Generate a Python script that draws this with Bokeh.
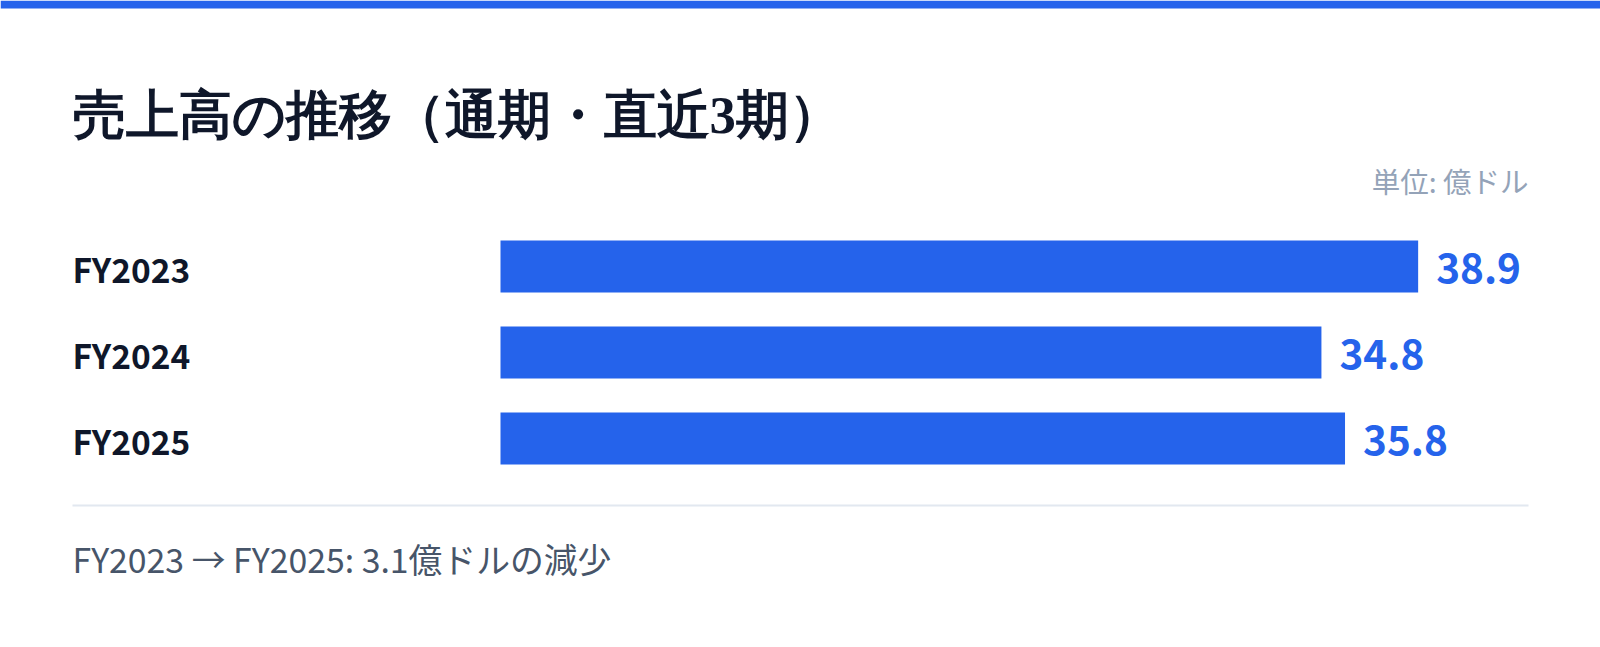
from bokeh.plotting import figure
from bokeh.models import Range1d, ColumnDataSource, Label, BoxAnnotation
from bokeh.core.properties import value
from bokeh.embed import file_html
from bokeh.resources import INLINE

# ---- data ----
categories = ["FY2023", "FY2024", "FY2025"]
sales = [38.9, 34.8, 35.8]
value_labels = ["38.9", "34.8", "35.8"]
title_text = "売上高の推移（通期・直近3期）"
unit_text = "単位: 億ドル"
footer_text = "FY2023 → FY2025: 3.1億ドルの減少"

# ---- layout helpers (pixel geometry of the card) ----
W, H = 1600, 647
X0_PX, PX_PER_UNIT = 500.0, 23.59
Y0_PX, ROW_PX = 266.0, 86.0

def px_x(px):
    return (px - X0_PX) / PX_PER_UNIT

def px_y(py):
    return (py - Y0_PX) / ROW_PX

BLUE = "#2563EB"
DARK = "#0f172a"
SANS = "Noto Sans CJK JP"

p = figure(width=W, height=H, output_backend="svg", toolbar_location=None,
           x_range=Range1d(px_x(0), px_x(W)),
           y_range=Range1d(px_y(H), px_y(0)),
           min_border=0, outline_line_color=None)
p.axis.visible = False
p.grid.visible = False
p.background_fill_color = "white"
p.border_fill_color = "white"

idx = list(range(len(categories)))
src = ColumnDataSource(dict(y=idx, v=sales, cat=categories, lab=value_labels,
                            zero=[0] * len(categories)))

# top stripe
p.add_layout(BoxAnnotation(bottom=px_y(8), fill_color=BLUE, fill_alpha=1, line_color=None))

# bars
p.hbar(y="y", left="zero", right="v", height=52 / ROW_PX, source=src,
       fill_color=BLUE, line_color=None)

# value labels
p.text(x="v", y="y", text="lab", source=src, x_offset=18, y_offset=1,
       text_font=value(SANS), text_font_style="bold", text_font_size="40.5px",
       text_color=BLUE, text_baseline="middle", text_align="left")

# category labels
p.text(x="zero", y="y", text="cat", source=src, x_offset=72 - X0_PX, y_offset=1.5,
       text_font=value(SANS), text_font_style="bold", text_font_size="33.5px",
       text_color=DARK, text_baseline="middle", text_align="left")

# title
p.add_layout(Label(x=px_x(72), y=px_y(114), text=title_text,
                   text_font="serif", text_font_style="bold", text_font_size="52.7px",
                   text_color=DARK, text_baseline="middle", text_align="left"))

# unit
p.add_layout(Label(x=px_x(1528), y=px_y(179.5), text=unit_text,
                   text_font=SANS, text_font_size="28.5px",
                   text_color="#94a3b8", text_baseline="middle", text_align="right"))

# separator
p.add_layout(BoxAnnotation(left=px_x(72), right=px_x(1528), top=px_y(504), bottom=px_y(506),
                           fill_color="#e2e8f0", fill_alpha=1, line_color=None))

# footer
p.add_layout(Label(x=px_x(72), y=px_y(557.5), text=footer_text,
                   text_font=SANS, text_font_size="33.8px",
                   text_color="#475569", text_baseline="middle", text_align="left"))

open("out.html", "w").write(file_html(p, INLINE))
